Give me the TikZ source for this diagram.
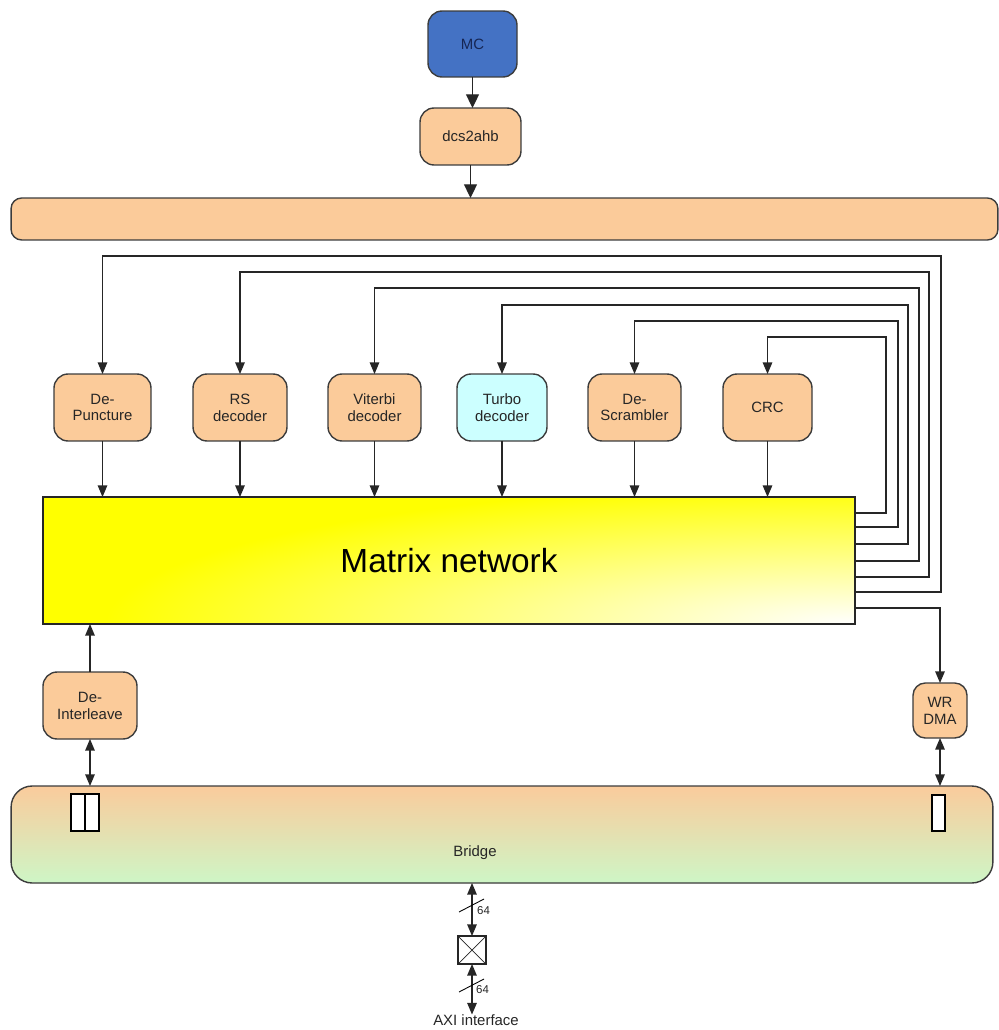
\documentclass[tikz,border=0pt]{standalone}
\usepackage{fontspec}
\setmainfont{Liberation Sans}
\usetikzlibrary{arrows.meta}

\definecolor{peach}{RGB}{251,203,154}
\definecolor{mcblue}{RGB}{68,114,196}
\definecolor{mcnavy}{RGB}{22,38,84}
\definecolor{turbocyan}{RGB}{204,255,255}
\definecolor{edge}{RGB}{60,60,60}
\definecolor{bridgetop}{RGB}{250,203,156}
\definecolor{bridgebot}{RGB}{206,246,198}
\definecolor{mxyellow}{RGB}{255,255,0}

\begin{document}
\begin{tikzpicture}[x=0.02cm,y=-0.02cm,
  block/.style={draw=edge, line width=0.8pt, rounded corners=8pt, fill=peach,
    inner sep=0pt, outer sep=0pt, align=center,
    font=\fontsize{8.5}{9.6}\selectfont, text=black!85},
  unit/.style={block, minimum width=1.86cm, minimum height=1.34cm},
  arr/.style={line width=0.7pt, draw=black!85, -{Triangle[length=6.6pt,width=5.4pt]}},
  bigarr/.style={line width=0.7pt, draw=black!85, -{Triangle[length=7.8pt,width=7.4pt]}},
  barr/.style={line width=0.7pt, draw=black!85,
    {Triangle[length=6.6pt,width=5.4pt]}-{Triangle[length=6.6pt,width=5.4pt]}},
  port/.style={draw=black, line width=0.6pt, fill=white, inner sep=0pt, outer sep=0pt},
  txt/.style={inner sep=0pt, outer sep=0pt, font=\fontsize{8.5}{9.6}\selectfont, text=black!85}
]
\useasboundingbox (0,0) rectangle (999,1030);

% control path
\node[block, fill=mcblue, text=mcnavy, minimum width=1.78cm, minimum height=1.32cm] (mc) at (472.5,44) {MC};
\node[block, minimum width=2.02cm, minimum height=1.14cm] (dcs) at (470.5,136.5) {dcs2ahb};
\node[block, rounded corners=6pt, minimum width=19.74cm, minimum height=0.84cm] (bus) at (504.5,219) {};
\draw[bigarr] (mc.south) -- (mc.south |- dcs.north);
\draw[bigarr] (dcs.south) -- (dcs.south |- bus.north);

% processing units
\node[unit, minimum width=1.94cm] (dp)    at (102.5,407.5) {De-\\Puncture};
\node[unit, minimum width=1.88cm] (rs)    at (240,407.5)   {RS\\decoder};
\node[unit, minimum width=1.86cm] (vit)   at (374.5,407.5) {Viterbi\\decoder};
\node[unit, minimum width=1.80cm, fill=turbocyan] (turbo) at (502,407.5) {Turbo\\decoder};
\node[unit, minimum width=1.86cm] (ds)    at (634.5,407.5) {De-\\Scrambler};
\node[unit, minimum width=1.78cm] (crc)   at (767.5,407.5) {CRC};

% matrix network background: yellow, fading to white towards the lower right corner
\begin{scope}
  \clip (43,497) rectangle (855,624);
  \fill[mxyellow] (43,497) rectangle (855,624);
  \shade[inner color=white, outer color=mxyellow]
    (855,624) ellipse [x radius=15cm, y radius=2.8cm];
\end{scope}
\node[draw=black!85, line width=0.8pt, inner sep=0pt, outer sep=0pt,
      minimum width=16.24cm, minimum height=2.54cm,
      font=\fontsize{19}{22}\selectfont] (mx) at (449,560.5) {Matrix network};

% unit outputs into the matrix
\foreach \n in {dp,rs,vit,turbo,ds,crc}
  \draw[arr] (\n.south) -- (\n.south |- mx.north);

% feedback loops from the matrix back to each unit
\foreach \n/\yo/\xr/\yt in {dp/592/941/256, rs/577/929/272, vit/561/919/288,
                            turbo/544/908/305, ds/527/898/321, crc/513/886/337}
  \draw[arr] (mx.east |- 0,\yo) -| (\xr,\yt) -| (\n.north);

% side units
\node[unit, minimum width=1.88cm] (di) at (90,705.5) {De-\\Interleave};
\node[block, rounded corners=7pt, minimum width=1.08cm, minimum height=1.1cm] (wr) at (940,710.5) {WR\\DMA};
\draw[arr] (di.north) -- (di.north |- mx.south);
\draw[arr] (mx.east |- 0,608) -| (wr.north);

% bridge
\node[block, rounded corners=12pt, top color=bridgetop, bottom color=bridgebot,
      minimum width=19.64cm, minimum height=1.94cm] (br) at (502,834.5) {};
\node[txt] (brt) at (475,853) {Bridge};
\node[port, minimum width=0.28cm, minimum height=0.74cm] (pa) at (78,812.5) {};
\node[port, minimum width=0.28cm, minimum height=0.74cm] (pb) at (92,812.5) {};
\node[port, minimum width=0.26cm, minimum height=0.72cm] (pc) at (938.5,813) {};
\draw[barr] (di.south) -- (di.south |- br.north);
\draw[barr] (wr.south) -- (wr.south |- br.north);

% AXI side
\node[draw=black!85, line width=0.7pt, fill=white, inner sep=0pt, outer sep=0pt,
      minimum width=0.56cm, minimum height=0.56cm,
      path picture={\draw[line width=0.4pt]
        (path picture bounding box.north west) -- (path picture bounding box.south east)
        (path picture bounding box.north east) -- (path picture bounding box.south west);}]
      (xb) at (472,950) {};
\node[txt] (axi) at (476,1020) {AXI interface};
\draw[barr] (xb.north |- br.south) -- (xb.north);
\draw[barr] (xb.south) -- (xb.south |- axi.north);

% bus width marks
\draw[line width=0.5pt] (459,912) -- (484,899);
\node[txt, font=\fontsize{6.5}{7}\selectfont] (w1) at (483.5,911) {64};
\draw[line width=0.5pt] (459,992) -- (484,979);
\node[txt, font=\fontsize{6.5}{7}\selectfont] (w2) at (482.5,990) {64};
\end{tikzpicture}
\end{document}
